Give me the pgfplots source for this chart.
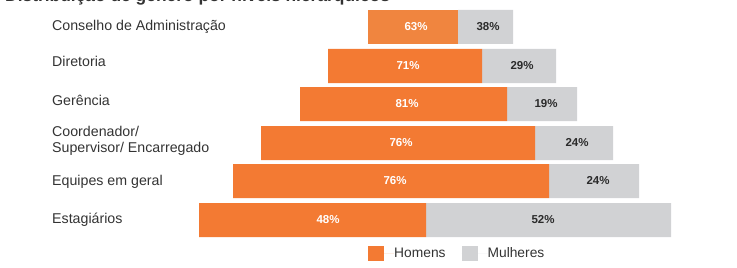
\documentclass[border=0pt]{standalone}
\usepackage{pgfplots}
\pgfplotsset{compat=1.18}
\usepackage{pgfplotstable}
\usepackage{fontspec}
\setmainfont{Liberation Sans}
\definecolor{orM}{HTML}{F37A33}
\definecolor{orL}{HTML}{F0853F}
\definecolor{grW}{HTML}{D1D2D4}
\definecolor{txt}{HTML}{333333}
\definecolor{lab}{HTML}{2B2B2B}

% y: bar centre (px from top); off: invisible offset; lo/o: men (first bar lighter); g: women
\pgfplotstableread{
y off lo o g
27 368 90 0 55
66 328 0 154 74
104 300 0 207 70
143 261 0 274 78
181 233 0 316 90
220 199 0 227 245
}\bars
% percentage labels: centre x, y, value
\pgfplotstableread{
x y p
416 27 63
408 66 71
407 104 81
401 143 76
395 181 76
328 220 48
}\men
\pgfplotstableread{
x y p
488 27 38
522 66 29
546 104 19
577 143 24
598 181 24
543 220 52
}\women

\pgfplotsset{
  legimg/.style={legend image code/.code={\fill[##1] (0bp,-7.5bp) rectangle (16bp,7.5bp); \path (0bp,0bp) -- (26bp,0bp);}},
  frame/.style={scale only axis, width=737bp, height=268bp,
    xmin=0, xmax=737, ymin=0, ymax=268, y dir=reverse, clip=false},
}

\begin{document}
\begin{tikzpicture}
\begin{axis}[name=ax, frame,
  xbar stacked, bar width=34,
  axis line style={draw=none}, tick style={draw=none}, major tick length=0pt,
  xtick=\empty, ytick={27,61,100,141,182,220},
  yticklabels={Conselho de Administração, Diretoria, Gerência, {Coordenador/\\Supervisor/ Encarregado}, Equipes em geral, Estagiários},
  yticklabel style={anchor=west, xshift=52bp, inner sep=0pt, align=left, text=txt, font=\fontsize{14.2bp}{16bp}\selectfont},
  title={Distribuição de gênero por níveis hierárquicos},
  title style={at={(0,1)}, anchor=base west, xshift=5bp, yshift=-7bp, inner sep=0pt, text=txt, font=\bfseries\fontsize{17.4bp}{20bp}\selectfont},
  legend style={at={(axis cs:368,253.5)}, anchor=west, draw=none, fill=none, inner sep=0pt, legend columns=2,
    font=\fontsize{13.8bp}{16bp}\selectfont, text=txt, nodes={inner sep=0pt},
    /tikz/every even column/.append style={column sep=16bp}},
]
\addplot[draw=none, fill=none, forget plot] table[x=off, y=y] {\bars};
\addplot[draw=none, fill=orL, forget plot] table[x=lo, y=y] {\bars};
\addplot[draw=none, fill=orM, legimg] table[x=o, y=y] {\bars};
\addplot[draw=none, fill=grW, legimg] table[x=g, y=y] {\bars};
\legend{Homens, Mulheres}
\end{axis}
\begin{axis}[frame, hide axis, /pgf/number format/assume math mode=true,
  nodes near coords={\pgfmathprintnumber{\pgfplotspointmeta}\%},
  every node near coord/.append style={anchor=center, inner sep=0pt, font=\bfseries\fontsize{11.5bp}{12bp}\selectfont},
]
\addplot[only marks, mark=none, point meta=explicit, every node near coord/.append style={text=white}] table[x=x, y=y, meta=p] {\men};
\addplot[only marks, mark=none, point meta=explicit, every node near coord/.append style={text=lab}] table[x=x, y=y, meta=p] {\women};
\end{axis}
\pgfresetboundingbox
\path (ax.south west) rectangle (ax.north east);
\end{tikzpicture}
\end{document}
